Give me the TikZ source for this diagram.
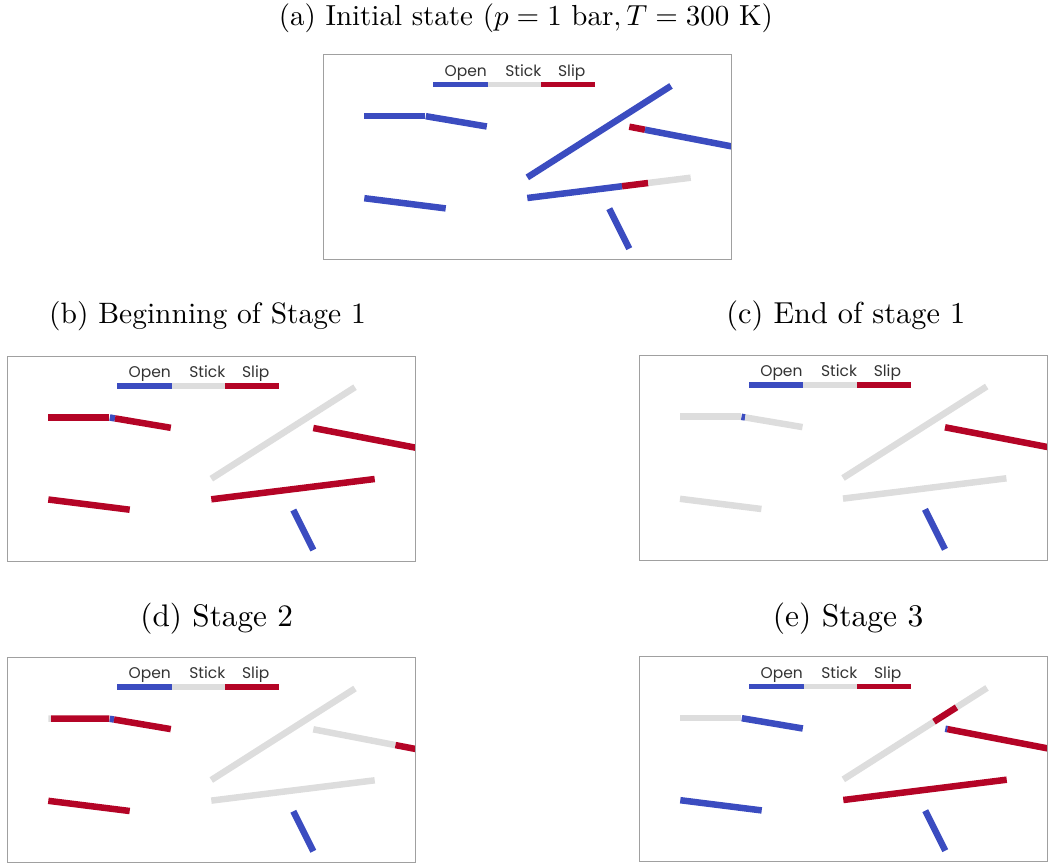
\documentclass[tikz,border=0pt]{standalone}
\usepackage{fontspec}
\usepackage{graphicx}
\usetikzlibrary{calc}
\newfontfamily\legfont{Poppins}
\definecolor{opencol}{RGB}{59,76,192}
\definecolor{slipcol}{RGB}{180,4,38}
\definecolor{stickcol}{RGB}{221,221,221}
\definecolor{framecol}{RGB}{160,160,160}
\tikzset{
  fracline/.style={line width=6.5pt},
  op/.style={fracline, draw=opencol},
  st/.style={fracline, draw=stickcol},
  sl/.style={fracline, draw=slipcol},
  legbar/.style={line width=5.5pt},
  legtext/.style={anchor=base, inner sep=0pt, font=\legfont\fontsize{15.5}{18}\selectfont, text=black!80},
  titletext/.style={anchor=base, inner sep=0pt},
  panelframe/.style={draw=framecol, line width=1pt},
}
\newcommand\fseg[5]{\draw[#1] ($(#2)!#4!(#3)$) -- ($(#2)!#5!(#3)$);}
\newcommand\fracpoints{%
  \coordinate (F1a) at (41,61.3);    \coordinate (F1b) at (102,61.3);
  \coordinate (F2a) at (102.5,61.5); \coordinate (F2b) at (163.5,71.8);
  \coordinate (F3a) at (204,122.7);  \coordinate (F3b) at (347.7,31.2);
  \coordinate (F4a) at (306,72);     \coordinate (F4b) at (410,92);
  \coordinate (F5a) at (204,143.3);  \coordinate (F5b) at (367.4,123);
  \coordinate (F6a) at (41,143.5);   \coordinate (F6b) at (122.4,153.7);
  \coordinate (F7a) at (286,154);    \coordinate (F7b) at (306,194);
}
\newcommand\panellegend[1]{%
  \draw[legbar, opencol]  (110,29.8) -- (164.4,29.8);
  \draw[legbar, stickcol] (164.4,29.8) -- (218,29.8);
  \draw[legbar, slipcol]  (218,29.8) -- (271.7,29.8);
  \node[legtext] (#1-open)  at (142.4,21.3) {Open};
  \node[legtext] (#1-stick) at (200,21.3) {Stick};
  \node[legtext] (#1-slip)  at (248.4,21.3) {Slip};
  \draw[panelframe] (0,0) rectangle (408.5,205);
}
\begin{document}
\begin{tikzpicture}[x=1pt,y=-1pt]
\useasboundingbox (0,0) rectangle (1051,865);

% titles
\node[titletext] (ta) at (525.9,25) {\scalebox{2.9}{(a) Initial state ($p=1$ bar$, T=300$ K)}};
\node[titletext] (tb) at (207.5,323.3) {\scalebox{2.95}{(b) Beginning of Stage 1}};
\node[titletext] (tc) at (845.8,323.3) {\scalebox{3.03}{(c) End of stage 1}};
\node[titletext] (td) at (216.7,626.5) {\scalebox{3.12}{(d) Stage 2}};
\node[titletext] (te) at (848,626.5) {\scalebox{3.15}{(e) Stage 3}};

% (a)
\begin{scope}[shift={(323.3,54.7)}]
  \fracpoints
  \begin{scope}
    \clip (0,0) rectangle (408.5,205);
    \draw[op] (F1a) -- (F1b);
    \draw[op] (F2a) -- (F2b);
    \draw[op] (F3a) -- (F3b);
    \fseg{sl}{F4a}{F4b}{0}{0.151}
    \fseg{op}{F4a}{F4b}{0.151}{1}
    \fseg{op}{F5a}{F5b}{0}{0.58}
    \fseg{sl}{F5a}{F5b}{0.58}{0.74}
    \fseg{st}{F5a}{F5b}{0.74}{1}
    \draw[op] (F6a) -- (F6b);
    \draw[op] (F7a) -- (F7b);
  \end{scope}
  \panellegend{a}
\end{scope}

% (b)
\begin{scope}[shift={(7.3,356)}]
  \fracpoints
  \begin{scope}
    \clip (0,0) rectangle (408.5,205);
    \draw[sl] (F1a) -- (F1b);
    \fseg{op}{F2a}{F2b}{0}{0.085}
    \fseg{sl}{F2a}{F2b}{0.085}{1}
    \draw[st] (F3a) -- (F3b);
    \draw[sl] (F4a) -- (F4b);
    \draw[sl] (F5a) -- (F5b);
    \draw[sl] (F6a) -- (F6b);
    \draw[op] (F7a) -- (F7b);
  \end{scope}
  \panellegend{b}
\end{scope}

% (c)
\begin{scope}[shift={(639,355.3)}]
  \fracpoints
  \begin{scope}
    \clip (0,0) rectangle (408.5,205);
    \draw[st] (F1a) -- (F1b);
    \fseg{op}{F2a}{F2b}{0}{0.06}
    \fseg{st}{F2a}{F2b}{0.06}{1}
    \draw[st] (F3a) -- (F3b);
    \draw[sl] (F4a) -- (F4b);
    \draw[st] (F5a) -- (F5b);
    \draw[st] (F6a) -- (F6b);
    \draw[op] (F7a) -- (F7b);
  \end{scope}
  \panellegend{c}
\end{scope}

% (d)
\begin{scope}[shift={(7.3,657.3)}]
  \fracpoints
  \begin{scope}
    \clip (0,0) rectangle (408.5,205);
    \fseg{st}{F1a}{F1b}{0}{0.045}
    \fseg{sl}{F1a}{F1b}{0.045}{1}
    \fseg{op}{F2a}{F2b}{0}{0.07}
    \fseg{sl}{F2a}{F2b}{0.07}{1}
    \draw[st] (F3a) -- (F3b);
    \fseg{st}{F4a}{F4b}{0}{0.79}
    \fseg{sl}{F4a}{F4b}{0.79}{1}
    \draw[st] (F5a) -- (F5b);
    \draw[sl] (F6a) -- (F6b);
    \draw[op] (F7a) -- (F7b);
  \end{scope}
  \panellegend{d}
\end{scope}

% (e)
\begin{scope}[shift={(639.3,656.7)}]
  \fracpoints
  \begin{scope}
    \clip (0,0) rectangle (408.5,205);
    \draw[st] (F1a) -- (F1b);
    \draw[op] (F2a) -- (F2b);
    \fseg{st}{F3a}{F3b}{0}{0.631}
    \fseg{sl}{F3a}{F3b}{0.631}{0.789}
    \fseg{st}{F3a}{F3b}{0.789}{1}
    \fseg{op}{F4a}{F4b}{0}{0.02}
    \fseg{sl}{F4a}{F4b}{0.02}{1}
    \draw[sl] (F5a) -- (F5b);
    \draw[op] (F6a) -- (F6b);
    \draw[op] (F7a) -- (F7b);
  \end{scope}
  \panellegend{e}
\end{scope}
\end{tikzpicture}
\end{document}
